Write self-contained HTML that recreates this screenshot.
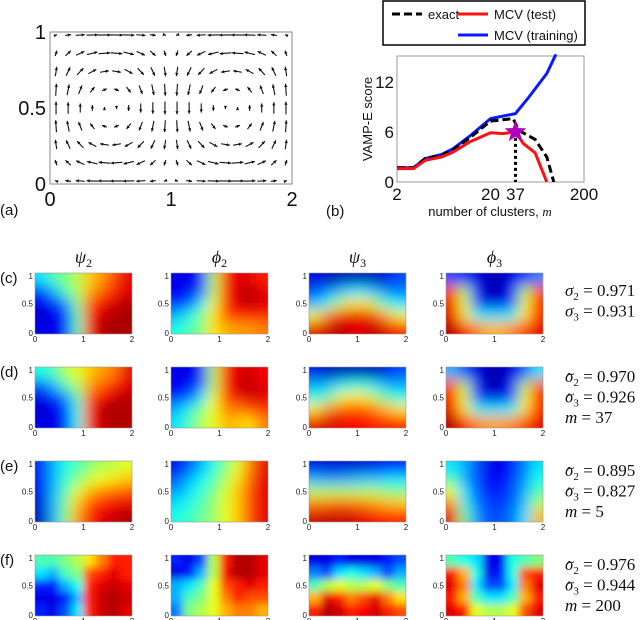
<!DOCTYPE html>
<html><head><meta charset="utf-8"><style>
html,body{margin:0;padding:0;background:#fff}
svg{display:block;font-family:"Liberation Sans","DejaVu Sans",sans-serif}
.sf{font-family:"Liberation Serif","DejaVu Serif",serif;font-style:italic}
</style></head><body>
<svg id="fig" width="640" height="620" viewBox="0 0 640 620" xmlns="http://www.w3.org/2000/svg">
<defs>
<filter id="blur6" x="-30%" y="-30%" width="160%" height="160%"><feGaussianBlur stdDeviation="7"/></filter>
<filter id="blur3" x="-30%" y="-30%" width="160%" height="160%"><feGaussianBlur stdDeviation="4"/></filter>
</defs>
<g id="panelA"></g>
<g id="panelB"></g>
<g id="heat"></g>
</svg>
<script>
// ---- panel (b) data ----
const blueM=[2,3,4,6,8,12,20,37,50,80,100];
const blueV=[1.7,1.7,2.8,3.3,4.0,5.5,7.6,8.2,10.0,13.0,15.3];
const exactM=[2,3,4,6,8,12,20,35,40,60,80,95];
const exactV=[1.7,1.7,2.8,3.2,3.9,5.3,7.3,7.6,6.2,5.1,3.0,0];
const testM=[2,3,4,6,8,12,20,27,37,45,60,80];
const testV=[1.6,1.6,2.6,3.0,3.6,4.8,5.9,5.8,6.0,4.6,3.5,0];
const starM=37, starV=6;
const yTicks=[0,6,12];
const xTicks=[2,20,37,200];
// ---- heatmap data: rows top(y=1) -> bottom(y=0), cols x=0..2 ----
const rowLabels=["(c)","(d)","(e)","(f)"];
const colTitles=["ψ","ϕ","ψ","ϕ"], colSubs=["2","2","3","3"];
const sigmaHat=[[0.971,0.931],[0.970,0.926],[0.895,0.827],[0.976,0.944]];
const mValues=[null,37,5,200];
const heatC=[
[[.35,.45,.5,.55,.68,.72,.8,.9],[.15,.3,.45,.55,.7,.78,.85,.9],[.1,.12,.25,.5,.8,.88,.92,.95],[.08,.1,.15,.45,.85,.92,.95,.97],[.1,.1,.15,.45,.85,.95,.97,.95]],
[[.1,.1,.15,.55,.85,.9,.9,.85],[.12,.1,.2,.55,.85,.92,.95,.9],[.15,.2,.35,.6,.85,.9,.95,.9],[.3,.4,.5,.65,.8,.85,.85,.85],[.4,.45,.5,.65,.7,.72,.72,.75]],
[[.1,.05,.05,.05,.05,.05,.1,.2],[.2,.25,.3,.35,.35,.3,.25,.25],[.3,.4,.55,.65,.65,.55,.4,.35],[.6,.75,.85,.9,.9,.8,.7,.6],[.9,.92,.95,.9,.9,.95,.9,.85]],
[[.2,.15,.1,.05,.05,.1,.15,.25],[.8,.55,.15,.05,.05,.15,.55,.8],[.9,.6,.2,.1,.1,.2,.6,.85],[.9,.65,.4,.35,.35,.4,.65,.85],[.95,.85,.75,.7,.7,.75,.8,.9]]];
const heatD=[
[[.4,.45,.55,.6,.68,.72,.75,.9],[.2,.3,.45,.55,.72,.78,.85,.9],[.1,.12,.25,.45,.8,.88,.92,.95],[.08,.1,.15,.4,.85,.95,.97,.95],[.1,.1,.15,.4,.85,.93,.95,.95]],
[[.1,.1,.15,.55,.85,.9,.92,.88],[.12,.1,.2,.55,.85,.92,.95,.9],[.15,.2,.35,.6,.82,.88,.92,.9],[.3,.4,.5,.62,.75,.75,.8,.82],[.35,.45,.55,.6,.7,.68,.65,.75]],
[[.1,.05,.05,.05,.05,.05,.1,.2],[.3,.3,.35,.4,.4,.35,.3,.3],[.4,.45,.6,.65,.65,.55,.45,.4],[.65,.75,.8,.8,.8,.75,.7,.65],[.9,.92,.9,.88,.88,.85,.85,.85]],
[[.3,.2,.1,.05,.05,.1,.2,.35],[.8,.55,.15,.05,.05,.15,.55,.8],[.88,.6,.2,.1,.1,.2,.6,.85],[.9,.65,.4,.35,.35,.4,.65,.85],[.95,.85,.75,.72,.72,.75,.8,.9]]];
const heatE=[
[[.15,.3,.4,.45,.5,.55,.55,.6],[.12,.3,.42,.5,.58,.62,.65,.68],[.1,.3,.45,.6,.7,.75,.78,.8],[.08,.3,.5,.68,.8,.85,.88,.9],[.05,.3,.5,.72,.85,.9,.93,.95]],
[[.1,.2,.3,.4,.5,.6,.75,.9],[.2,.3,.38,.45,.55,.65,.78,.9],[.28,.35,.42,.5,.58,.68,.8,.9],[.35,.4,.45,.52,.6,.68,.8,.9],[.4,.43,.48,.53,.6,.68,.8,.9]],
[[.1,.08,.08,.08,.08,.1,.12,.15],[.3,.28,.28,.3,.32,.32,.35,.35],[.55,.55,.55,.55,.55,.55,.5,.5],[.75,.77,.78,.77,.75,.72,.7,.68],[.92,.93,.93,.92,.9,.88,.85,.85]],
[[.35,.3,.2,.1,.1,.15,.25,.35],[.45,.3,.2,.12,.12,.18,.28,.4],[.6,.35,.22,.15,.15,.2,.3,.45],[.75,.4,.25,.18,.18,.22,.32,.55],[.9,.5,.28,.2,.2,.25,.35,.7]]];
const heatF=[
[[.45,.45,.5,.55,.65,.75,.85,.85],[.35,.3,.45,.5,.8,.85,.9,.85],[.15,.15,.3,.4,.85,.9,.93,.9],[.1,.1,.15,.3,.85,.93,.95,.93],[.15,.1,.2,.35,.85,.92,.95,.9]],
[[.15,.1,.2,.55,.85,.95,.95,.9],[.1,.15,.3,.55,.88,.95,.95,.9],[.3,.35,.45,.6,.8,.85,.9,.85],[.3,.45,.5,.6,.75,.85,.8,.8],[.25,.5,.55,.6,.7,.75,.75,.7]],
[[.1,.1,.15,.1,.1,.1,.15,.2],[.25,.2,.35,.4,.35,.3,.2,.3],[.45,.55,.6,.55,.55,.6,.5,.45],[.7,.9,.85,.75,.8,.9,.75,.65],[.85,.95,.92,.85,.88,.92,.85,.8]],
[[.45,.4,.35,.1,.1,.4,.45,.5],[.85,.7,.4,.1,.15,.4,.8,.85],[.9,.75,.35,.2,.2,.35,.75,.9],[.85,.7,.45,.35,.35,.45,.7,.85],[.9,.85,.6,.55,.55,.6,.8,.9]]];
const heatRows=[heatC,heatD,heatE,heatF];

const NS="http://www.w3.org/2000/svg";
function el(tag,attrs,parent,text){const e=document.createElementNS(NS,tag);for(const k in attrs)e.setAttribute(k,attrs[k]);if(text!==undefined)e.textContent=text;parent.appendChild(e);return e;}
function jet(v){const c=t=>Math.round(255*Math.max(0,Math.min(1,1.5-Math.abs(t))));return `rgb(${c(4*v-3)},${c(4*v-2)},${c(4*v-1)})`;}

// ---- panel (a) ----
const A=document.getElementById('panelA');
const ax0=50,ax1=292,ay0=32,ay1=184;
const qx=v=>ax0+(ax1-ax0)*v/2, qy=v=>ay1-(ay1-ay0)*v;
let fr=el('rect',{x:ax0,y:ay0,width:ax1-ax0,height:ay1-ay0,fill:'none',stroke:'#888','stroke-width':1},A);

const qxs=[],qys=[0.02,0.14,0.26,0.38,0.5,0.62,0.74,0.86,0.98];
for(let i=0;i<20;i++)qxs.push(0.05+0.1*i);
qys.forEach(y=>qxs.forEach(x=>{
  const u=-Math.sin(Math.PI*x)*Math.cos(Math.PI*y), v=Math.cos(Math.PI*x)*Math.sin(Math.PI*y);
  const L=13, px=qx(x), py=qy(y), dx=u*L, dy=-v*L;
  const a=el('g',{},A);
  
  el('line',{x1:px-dx/2,y1:py-dy/2,x2:px+dx/2,y2:py+dy/2,stroke:'#111','stroke-width':1.1},a);
  const m=Math.hypot(dx,dy);
  if(m>1.5){const ux=dx/m,uy=dy/m,tx=px+dx/2,ty=py+dy/2,h=3.2;
    el('polygon',{points:`${tx},${ty} ${tx-ux*h-uy*1.6},${ty-uy*h+ux*1.6} ${tx-ux*h+uy*1.6},${ty-uy*h-ux*1.6}`,fill:'#111'},a);}
  else el('circle',{cx:px,cy:py,r:0.6,fill:'#333'},a);
}));
[[1,'1'],[0.5,'0.5'],[0,'0']].forEach(([v,t])=>{const e=el('text',{x:ax0-4,y:qy(v)+7,'text-anchor':'end','font-size':20,fill:'#111'},A,t);});
[[0,'0'],[1,'1'],[2,'2']].forEach(([v,t])=>{const e=el('text',{x:qx(v),y:ay1+22,'text-anchor':'middle','font-size':20,fill:'#111'},A,t);});
let la=el('text',{x:0,y:215,'font-size':15,fill:'#111'},A,'(a)');

// ---- panel (b) ----
const B=document.getElementById('panelB');
const bx0=397,bx1=584,by0=56,by1=182,ymax=15.1;
const bX=m=>bx0+(bx1-bx0)*Math.log10(m/2)/2, bY=v=>by1-(by1-by0)*v/ymax;
const cp=el('clipPath',{id:'bclip'},B);el('rect',{x:bx0,y:by0-2,width:bx1-bx0,height:by1-by0+2},cp);
let bf=el('rect',{x:bx0,y:by0,width:bx1-bx0,height:by1-by0,fill:'none',stroke:'#999','stroke-width':1},B);

const pts=(M,V)=>M.map((m,i)=>bX(m).toFixed(1)+','+bY(V[i]).toFixed(1)).join(' ');
const gC=el('g',{'clip-path':'url(#bclip)'},B);
let l1=el('polyline',{points:pts(blueM,blueV),fill:'none',stroke:'#0a1aff','stroke-width':3,'stroke-linejoin':'round'},gC);

let l2=el('polyline',{points:pts(exactM,exactV),fill:'none',stroke:'#000','stroke-width':3,'stroke-dasharray':'8 4'},gC);

let l3=el('polyline',{points:pts(testM,testV),fill:'none',stroke:'#ff1010','stroke-width':3,'stroke-linejoin':'round'},gC);

let vl=el('line',{x1:bX(starM),y1:bY(starV),x2:bX(starM),y2:by1,stroke:'#000','stroke-width':3,'stroke-dasharray':'3 3'},B);

(function(){const cx=bX(starM),cy=bY(starV),R=10,r=4.2;let p=[];for(let i=0;i<10;i++){const a=-Math.PI/2+i*Math.PI/5,rr=i%2?r:R;p.push((cx+rr*Math.cos(a)).toFixed(1)+','+(cy+rr*Math.sin(a)).toFixed(1));}
const s=el('polygon',{points:p.join(' '),fill:'#b000c0',stroke:'#b000c0'},B);})();
yTicks.forEach(v=>{const e=el('text',{x:bx0-3,y:bY(v)+6,'text-anchor':'end','font-size':17,fill:'#111'},B,String(v));});
xTicks.forEach(v=>{const e=el('text',{x:bX(v),y:by1+18,'text-anchor':'middle','font-size':17,fill:'#111'},B,String(v));});
let yt=el('text',{x:0,y:0,transform:`translate(372,${(by0+by1)/2}) rotate(-90)`,'text-anchor':'middle','font-size':13,fill:'#111'},B,'VAMP-E score');

let xt=el('text',{x:490,y:216,'text-anchor':'middle','font-size':13,fill:'#111'},B);

xt.appendChild(document.createTextNode('number of clusters, '));el('tspan',{class:'sf'},xt,'m');
let lb=el('text',{x:326,y:216,'font-size':15,fill:'#111'},B,'(b)');
const lg=el('g',{},B);
el('rect',{x:383,y:1,width:202,height:44,fill:'#fff',stroke:'#000','stroke-width':1.5},lg);
[[['exact',392,14,'#000',true]],[['MCV (test)',458,14,'#ff1010',false]],[['MCV (training)',458,35,'#0a1aff',false]]].forEach(([[t,x,y,c,d]])=>{
 const g=el('g',{},lg);
 el('line',{x1:x,y1:y,x2:x+30,y2:y,stroke:c,'stroke-width':3,'stroke-dasharray':d?'8 4':'none'},g);
 el('text',{x:x+36,y:y+5,'font-size':13,fill:'#111'},g,t);});

// ---- heatmaps ----
const H=document.getElementById('heat');
const colX=[35,171,309,446], pw=97, rowY=[273,367,461,555], ph=61;
colTitles.forEach((t,j)=>{const e=el('text',{x:colX[j]+pw/2,y:263,'text-anchor':'middle','font-size':18,fill:'#111',class:'sf'},H);
 
 e.appendChild(document.createTextNode(t));el('tspan',{'font-size':12,dy:4,'font-style':'normal'},e,colSubs[j]);});
const PAD=25;
heatRows.forEach((row,r)=>{
 const y0=rowY[r];
 const rl=el('text',{x:0,y:y0+10,'font-size':15,fill:'#111'},H,rowLabels[r]);
 row.forEach((grid,c)=>{
  const x0=colX[c];
  const g=el('g',{},H);
  const cid='hc'+r+'_'+c;const cpp=el('clipPath',{id:cid},g);el('rect',{x:x0,y:y0,width:pw,height:ph},cpp);
  const cg=el('g',{'clip-path':`url(#${cid})`},g);
  const fg=el('g',{filter:r===3?'url(#blur3)':'url(#blur6)'},cg);
  const nr=grid.length,nc=grid[0].length,cw=pw/nc,chh=ph/nr;
  grid.forEach((rv,i)=>rv.forEach((v,k)=>{
   let x=x0+k*cw,w=cw+0.5,y=y0+i*chh,h=chh+0.5;
   if(k===0){x-=PAD;w+=PAD;} if(k===nc-1){w+=PAD;}
   if(i===0){y-=PAD;h+=PAD;} if(i===nr-1){h+=PAD;}
   const rc=el('rect',{x:x,y:y,width:w,height:h,fill:jet(v)},fg);
   }));
  el('rect',{x:x0,y:y0,width:pw,height:ph,fill:'none',stroke:'#999','stroke-width':0.6},g);
  [[1,'1',3],[0.5,'0.5',0],[0,'0',-1]].forEach(([v,t,o])=>el('text',{x:x0-2,y:y0+ph*(1-v)+3+o,'text-anchor':'end','font-size':8,fill:'#222'},g,t));
  [[0,'0'],[1,'1'],[2,'2']].forEach(([v,t])=>el('text',{x:x0+pw*v/2,y:y0+ph+8,'text-anchor':'middle','font-size':8,fill:'#222'},g,t));
 });
 const sg=el('g',{},H);
 const lines=[];
 lines.push(['σ','2',' = '+sigmaHat[r][0].toFixed(3),r>0]);lines.push(['σ','3',' = '+sigmaHat[r][1].toFixed(3),r>0]);
 if(mValues[r]!==null)lines.push(['m','',' = '+mValues[r],false]);
 const top=r===0?y0+23:y0+15;
 lines.forEach((L,i)=>{const ty=top+i*20.5;
  if(L[3])el('text',{x:567,y:ty+1,'font-size':14,fill:'#111'},sg,'ˆ');
  const t=el('text',{x:565,y:ty,'font-size':17,fill:'#111',class:'sf'},sg);
  t.appendChild(document.createTextNode(L[0]));if(L[1])el('tspan',{'font-size':11,dy:4,'font-style':'normal'},t,L[1]);
  el('tspan',{'font-style':'normal',dy:L[1]?-4:0},t,L[2]);});
});
</script>
</body></html>
